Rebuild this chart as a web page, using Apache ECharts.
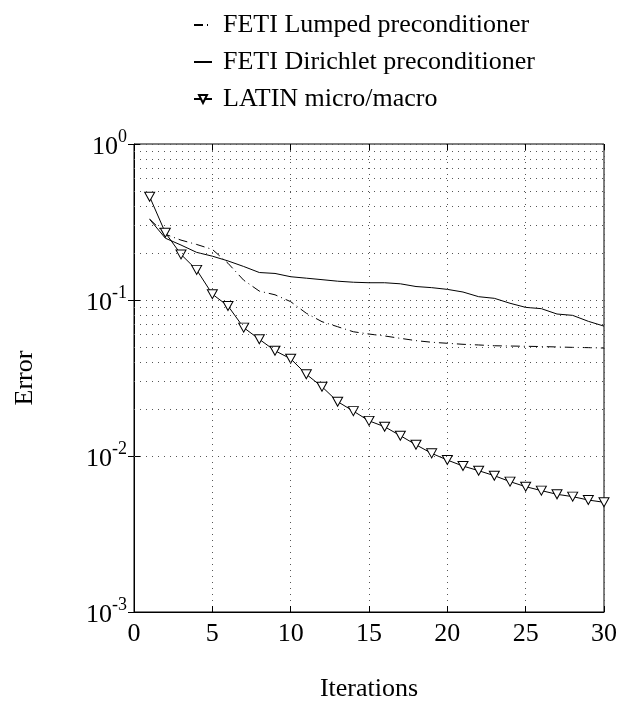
<!DOCTYPE html>
<html>
<head>
<meta charset="utf-8">
<script src="https://cdn.jsdelivr.net/npm/echarts@6/dist/echarts.min.js"></script>
<style>html,body{margin:0;padding:0;background:#fff}#c{width:621px;height:702px}</style>
</head>
<body>
<div id="c"></div>
<script>
var iterations = [1,2,3,4,5,6,7,8,9,10,11,12,13,14,15,16,17,18,19,20,21,22,23,24,25,26,27,28,29,30];
var fetiLumped = [0.33,0.264,0.242,0.227,0.211,0.172,0.134,0.114,0.108,0.0976,0.0822,0.0726,0.0674,0.0626,0.0605,0.0588,0.0568,0.0549,0.0536,0.0528,0.052,0.0515,0.0509,0.0507,0.0505,0.0503,0.050,0.0497,0.0495,0.0492];
var fetiDirichlet = [0.329,0.249,0.225,0.202,0.191,0.178,0.164,0.150,0.148,0.141,0.138,0.135,0.132,0.130,0.129,0.129,0.127,0.122,0.120,0.117,0.1125,0.105,0.1025,0.0953,0.0897,0.088,0.0813,0.0797,0.073,0.068];
var latin = [0.459,0.27,0.196,0.156,0.109,0.0916,0.0665,0.056,0.0473,0.042,0.0334,0.0278,0.0223,0.0194,0.0168,0.0154,0.0135,0.0118,0.0104,0.00942,0.00862,0.00805,0.00748,0.00685,0.00636,0.0060,0.00568,0.00549,0.00522,0.00505];
var seriesNames = ['FETI Lumped preconditioner','FETI Dirichlet preconditioner','LATIN micro/macro'];
var xTicks = [0,5,10,15,20,25,30];
var yDecades = [0.001,0.01,0.1,1];

function pairs(ys){ return iterations.map(function(x,i){ return [x, ys[i]]; }); }
var minorVals = [];
for (var d = 0; d < yDecades.length - 1; d++) {
  for (var m = 2; m <= 9; m++) minorVals.push(+(m * yDecades[d]).toPrecision(3));
}
var FONT = '"Liberation Serif","DejaVu Serif",serif';
var gridDot = {color:'#555', width:1, type:[1,5]};

var chart = echarts.init(document.getElementById('c'), null, {renderer:'canvas'});
chart.setOption({
  animation:false,
  textStyle:{fontFamily:FONT, color:'#000'},
  grid:{left:134, top:144, width:470, height:468, containLabel:false, outerBoundsMode:'none',
        show:true, borderColor:'#000', borderWidth:1, backgroundColor:'transparent'},
  legend:{
    orient:'vertical', left:188, top:7, itemGap:11, itemWidth:18, itemHeight:10,
    data:[
      {name:seriesNames[0], itemStyle:{opacity:0}},
      {name:seriesNames[1], itemStyle:{opacity:0}},
      {name:seriesNames[2]}
    ],
    textStyle:{fontFamily:FONT, fontSize:26, color:'#000', padding:[0,0,0,6]}
  },
  xAxis:[{
    type:'value', min:0, max:30, interval:5,
    name:'Iterations', nameLocation:'middle', nameGap:64,
    nameTextStyle:{fontFamily:FONT, fontSize:26, color:'#000'},
    axisLine:{lineStyle:{color:'#000'}},
    axisTick:{inside:true, length:6, lineStyle:{color:'#000'}},
    axisLabel:{fontFamily:FONT, fontSize:26, color:'#000', margin:9},
    splitLine:{show:true, lineStyle:gridDot}
  },{
    type:'value', min:0, max:30, interval:5, position:'top',
    axisLine:{show:false}, axisLabel:{show:false}, splitLine:{show:false},
    axisTick:{inside:true, length:6, lineStyle:{color:'#000'}}
  }],
  yAxis:[{
    type:'log', logBase:10, min:0.001, max:1,
    name:'Error', nameLocation:'middle', nameGap:96,
    nameTextStyle:{fontFamily:FONT, fontSize:26, color:'#000'},
    axisLine:{lineStyle:{color:'#000'}},
    axisTick:{inside:true, length:6, lineStyle:{color:'#000'}},
    axisLabel:{
      margin:7,
      formatter:function(v){ var e = Math.round(Math.log10(v)); return '{b|10}{s|' + e + '}'; },
      rich:{
        b:{fontFamily:FONT, fontSize:26, color:'#000', verticalAlign:'bottom', lineHeight:32},
        s:{fontFamily:FONT, fontSize:18, color:'#000', verticalAlign:'top', lineHeight:32}
      }
    },
    splitLine:{show:true, lineStyle:gridDot}
  },{
    type:'log', logBase:10, min:0.001, max:1, position:'right',
    axisLine:{show:false}, axisLabel:{show:false}, splitLine:{show:false},
    axisTick:{inside:true, length:6, lineStyle:{color:'#000'}}
  }],
  series:[{
    name:seriesNames[0], type:'line', data:pairs(fetiLumped), symbol:'none',
    lineStyle:{color:'#000', width:1, type:[9,4,1,4]}, itemStyle:{color:'#000'},
    markLine:{
      silent:true, symbol:'none', label:{show:false},
      lineStyle:{color:'#555', width:1, type:[1,5]},
      data:minorVals.map(function(v){ return {yAxis:v}; })
    }
  },{
    name:seriesNames[1], type:'line', data:pairs(fetiDirichlet), symbol:'none',
    lineStyle:{color:'#000', width:1, type:'solid'}, itemStyle:{color:'#000'}
  },{
    name:seriesNames[2], type:'line', data:pairs(latin),
    symbol:'triangle', symbolRotate:180, symbolSize:[10,9], showSymbol:true,
    lineStyle:{color:'#000', width:1},
    itemStyle:{color:'#fff', borderColor:'#000', borderWidth:1}
  }]
});
</script>
</body>
</html>
